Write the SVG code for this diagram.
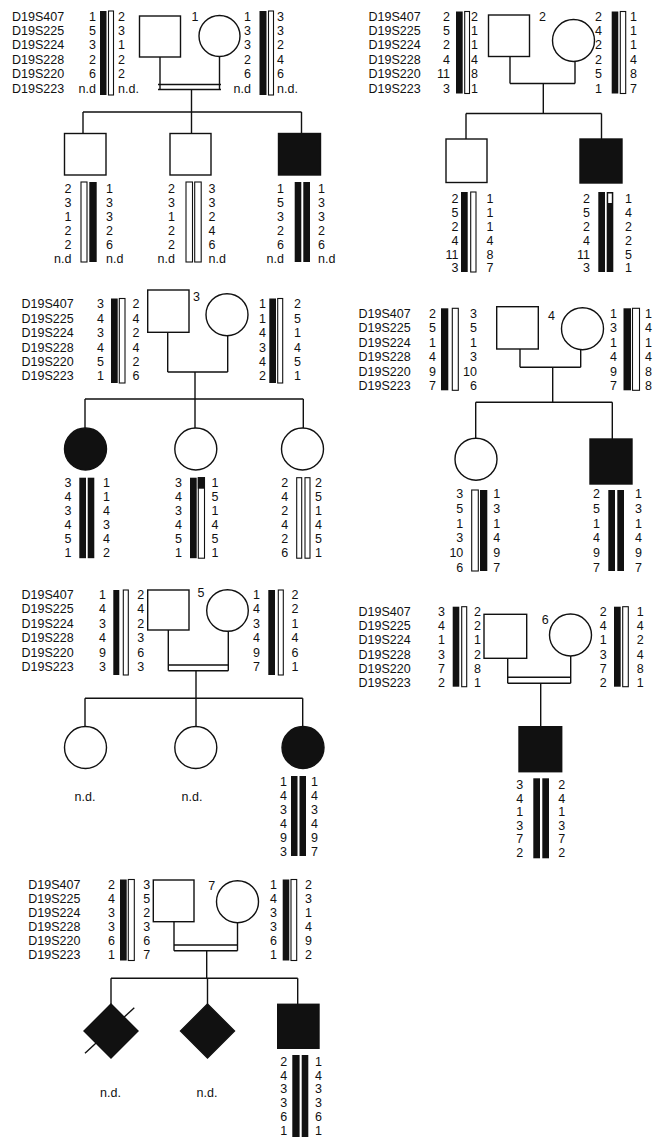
<svg xmlns="http://www.w3.org/2000/svg" width="653" height="1138" viewBox="0 0 653 1138">
<style>
text{font-family:"Liberation Sans",Arial,sans-serif;font-size:12.5px;fill:#111}
.e{text-anchor:end}
.m{text-anchor:middle}
.sym{fill:#fff;stroke:#111;stroke-width:1.4}
.aff{fill:#111;stroke:#111;stroke-width:1.4}
.ln{stroke:#111;stroke-width:1.4;fill:none}
.bk{fill:#111}
.wt{fill:#fff;stroke:#111;stroke-width:1.1}
</style>
<rect width="653" height="1138" fill="#fff"/>

<g id="connectors">
<!-- F1 -->
<path class="ln" d="M160,57V89.5M219.5,56.5V89.5M158,84.5H221M158,89.5H221M191.5,89.5V112M83,112H301.5M83,112V133.5M191.5,112V133.5M301.5,112V133.5"/>
<!-- F2 -->
<path class="ln" d="M510,56.5V83.5M575,61.5V83.5M510,83.5H575M543.3,83.5V113.5M466,113.5H601.5M466,113.5V139M601.5,113.5V139"/>
<!-- F3 -->
<path class="ln" d="M167.7,332.3V372M227.7,335.7V372M167.7,372H227.7M195,372V399M85,399H303.3M85,399V428M195,399V428M303.3,399V428"/>
<!-- F4 -->
<path class="ln" d="M520,349V367.3M580.7,349.7V367.3M520,367.3H580.7M552.7,367.3V402.3M475.7,402.3H612.3M475.7,402.3V438.5M612.3,402.3V439"/>
<!-- F5 -->
<path class="ln" d="M168.3,630V670.7M228.3,631.3V670.7M168.3,665H228.3M168.3,670.7H228.3M196,670.7V698.3M85,698.3H302.7M85,698.3V726.7M196,698.3V726.7M302.7,698.3V726.7"/>
<!-- F6 -->
<path class="ln" d="M507.7,658.3V683.3M570.7,656V683.3M507.7,677.3H570.7M507.7,683.3H570.7M540.7,683.3V726.7"/>
<!-- F7 -->
<path class="ln" d="M174,921.7V950.7M237.5,922.7V950.7M174,945H237.5M174,950.7H237.5M206.7,950.7V978.3M111,978.3H297.7M111,978.3V1004M207.5,978.3V1004M297.7,978.3V1004.3"/>
</g>

<!-- ================= FAMILY 1 ================= -->
<g id="family1">
<text x="12" y="20.5"><tspan x="12">D19S407</tspan><tspan x="12" dy="14.4">D19S225</tspan><tspan x="12" dy="14.4">D19S224</tspan><tspan x="12" dy="14.4">D19S228</tspan><tspan x="12" dy="14.4">D19S220</tspan><tspan x="12" dy="14.4">D19S223</tspan></text>
</g>
<g id="f1-father">
<text class="e" x="96" y="20.5"><tspan x="96">1</tspan><tspan x="96" dy="14.4">5</tspan><tspan x="96" dy="14.4">3</tspan><tspan x="96" dy="14.4">2</tspan><tspan x="96" dy="14.4">6</tspan><tspan x="96" dy="14.4">n.d</tspan></text>
<rect class="bk" x="100" y="11" width="6.5" height="84"/>
<rect class="wt" x="108.5" y="11" width="5" height="84"/>
<text x="118" y="20.5"><tspan x="118">2</tspan><tspan x="118" dy="14.4">3</tspan><tspan x="118" dy="14.4">1</tspan><tspan x="118" dy="14.4">2</tspan><tspan x="118" dy="14.4">2</tspan><tspan x="118" dy="14.4">n.d.</tspan></text>
<rect class="sym" x="139.5" y="16" width="41" height="41"/>
<text x="191.5" y="21">1</text>
</g>
<g id="f1-mother">
<circle class="sym" cx="219.5" cy="36" r="20.5"/>
<text class="e" x="251" y="20.5"><tspan x="251">1</tspan><tspan x="251" dy="14.4">3</tspan><tspan x="251" dy="14.4">3</tspan><tspan x="251" dy="14.4">2</tspan><tspan x="251" dy="14.4">6</tspan><tspan x="251" dy="14.4">n.d</tspan></text>
<rect class="bk" x="259.5" y="11" width="7" height="84"/>
<rect class="wt" x="268.5" y="11" width="5" height="84"/>
<text x="277" y="20.5"><tspan x="277">3</tspan><tspan x="277" dy="14.4">3</tspan><tspan x="277" dy="14.4">2</tspan><tspan x="277" dy="14.4">4</tspan><tspan x="277" dy="14.4">6</tspan><tspan x="277" dy="14.4">n.d.</tspan></text>
</g>
<g id="f1-child1">
<rect class="sym" x="64.5" y="133.5" width="41.5" height="41.5"/>
<text class="e" x="71.5" y="192.6"><tspan x="71.5">2</tspan><tspan x="71.5" dy="14">3</tspan><tspan x="71.5" dy="14">1</tspan><tspan x="71.5" dy="14">2</tspan><tspan x="71.5" dy="14">2</tspan><tspan x="71.5" dy="14">n.d</tspan></text>
<rect class="wt" x="81" y="182" width="6" height="80"/>
<rect class="bk" x="89.3" y="182" width="7.4" height="80"/>
<text x="106" y="192.6"><tspan x="106">1</tspan><tspan x="106" dy="14">3</tspan><tspan x="106" dy="14">3</tspan><tspan x="106" dy="14">2</tspan><tspan x="106" dy="14">6</tspan><tspan x="106" dy="14">n.d</tspan></text>
</g>
<g id="f1-child2">
<rect class="sym" x="170" y="133.5" width="41" height="41.5"/>
<text class="e" x="175" y="192.6"><tspan x="175">2</tspan><tspan x="175" dy="14">3</tspan><tspan x="175" dy="14">1</tspan><tspan x="175" dy="14">2</tspan><tspan x="175" dy="14">2</tspan><tspan x="175" dy="14">n.d</tspan></text>
<rect class="wt" x="186" y="182" width="6.5" height="80"/>
<rect class="wt" x="194.7" y="182" width="6.5" height="80"/>
<text x="208.5" y="192.6"><tspan x="208.5">3</tspan><tspan x="208.5" dy="14">3</tspan><tspan x="208.5" dy="14">2</tspan><tspan x="208.5" dy="14">4</tspan><tspan x="208.5" dy="14">6</tspan><tspan x="208.5" dy="14">n.d</tspan></text>
</g>
<g id="f1-child3">
<rect class="aff" x="278.5" y="133.5" width="42" height="41.5"/>
<text class="e" x="284" y="192.6"><tspan x="284">1</tspan><tspan x="284" dy="14">5</tspan><tspan x="284" dy="14">3</tspan><tspan x="284" dy="14">2</tspan><tspan x="284" dy="14">6</tspan><tspan x="284" dy="14">n.d</tspan></text>
<rect class="bk" x="294.7" y="182" width="6.6" height="80"/>
<rect class="bk" x="303.3" y="182" width="6.7" height="80"/>
<text x="318" y="192.6"><tspan x="318">1</tspan><tspan x="318" dy="14">3</tspan><tspan x="318" dy="14">3</tspan><tspan x="318" dy="14">2</tspan><tspan x="318" dy="14">6</tspan><tspan x="318" dy="14">n.d</tspan></text>
</g>

<!-- ================= FAMILY 2 ================= -->
<g id="family2">
<text x="368.5" y="20.5"><tspan x="368.5">D19S407</tspan><tspan x="368.5" dy="14.4">D19S225</tspan><tspan x="368.5" dy="14.4">D19S224</tspan><tspan x="368.5" dy="14.4">D19S228</tspan><tspan x="368.5" dy="14.4">D19S220</tspan><tspan x="368.5" dy="14.4">D19S223</tspan></text>
</g>
<g id="f2-father">
<text class="e" x="450" y="20.5"><tspan x="450">2</tspan><tspan x="450" dy="14.4">5</tspan><tspan x="450" dy="14.4">2</tspan><tspan x="450" dy="14.4">4</tspan><tspan x="450" dy="14.4">11</tspan><tspan x="450" dy="14.4">3</tspan></text>
<rect class="bk" x="456" y="11.5" width="6.7" height="82"/>
<rect class="wt" x="464.7" y="11.5" width="4.8" height="82"/>
<text x="471" y="20.5"><tspan x="471">2</tspan><tspan x="471" dy="14.4">1</tspan><tspan x="471" dy="14.4">1</tspan><tspan x="471" dy="14.4">4</tspan><tspan x="471" dy="14.4">8</tspan><tspan x="471" dy="14.4">1</tspan></text>
<rect class="sym" x="488.5" y="15" width="41" height="41.5"/>
<text x="539" y="21">2</text>
</g>
<g id="f2-mother">
<circle class="sym" cx="573.5" cy="40.5" r="21"/>
<text class="e" x="602" y="20.5"><tspan x="602">2</tspan><tspan x="602" dy="14.4">4</tspan><tspan x="602" dy="14.4">2</tspan><tspan x="602" dy="14.4">2</tspan><tspan x="602" dy="14.4">5</tspan><tspan x="602" dy="14.4">1</tspan></text>
<rect class="bk" x="611.7" y="11.5" width="6.6" height="82"/>
<rect class="wt" x="620.3" y="11.5" width="5.4" height="82"/>
<text x="630" y="20.5"><tspan x="630">1</tspan><tspan x="630" dy="14.4">1</tspan><tspan x="630" dy="14.4">1</tspan><tspan x="630" dy="14.4">4</tspan><tspan x="630" dy="14.4">8</tspan><tspan x="630" dy="14.4">7</tspan></text>
</g>
<g id="f2-child1">
<rect class="sym" x="446" y="139" width="41" height="43.5"/>
<text class="e" x="458.5" y="203.3"><tspan x="458.5">2</tspan><tspan x="458.5" dy="13.8">5</tspan><tspan x="458.5" dy="13.8">2</tspan><tspan x="458.5" dy="13.8">4</tspan><tspan x="458.5" dy="13.8">11</tspan><tspan x="458.5" dy="13.8">3</tspan></text>
<rect class="bk" x="461" y="192" width="6.7" height="80"/>
<rect class="wt" x="470.7" y="192" width="5.3" height="80"/>
<text x="486.5" y="203.3"><tspan x="486.5">1</tspan><tspan x="486.5" dy="13.8">1</tspan><tspan x="486.5" dy="13.8">1</tspan><tspan x="486.5" dy="13.8">4</tspan><tspan x="486.5" dy="13.8">8</tspan><tspan x="486.5" dy="13.8">7</tspan></text>
</g>
<g id="f2-child2">
<rect class="aff" x="580" y="139" width="42" height="44"/>
<text class="e" x="590" y="203.3"><tspan x="590">2</tspan><tspan x="590" dy="13.8">5</tspan><tspan x="590" dy="13.8">2</tspan><tspan x="590" dy="13.8">4</tspan><tspan x="590" dy="13.8">11</tspan><tspan x="590" dy="13.8">3</tspan></text>
<rect class="bk" x="598.3" y="192" width="6.7" height="80"/>
<rect class="bk" x="606.7" y="192" width="6.6" height="80"/>
<rect x="608.2" y="193.5" width="3.6" height="9.5" fill="#fff"/>
<text x="625" y="203.3"><tspan x="625">1</tspan><tspan x="625" dy="13.8">4</tspan><tspan x="625" dy="13.8">2</tspan><tspan x="625" dy="13.8">2</tspan><tspan x="625" dy="13.8">5</tspan><tspan x="625" dy="13.8">1</tspan></text>
</g>

<!-- ================= FAMILY 3 ================= -->
<g id="family3">
<text x="21.5" y="308.3"><tspan x="21.5">D19S407</tspan><tspan x="21.5" dy="14.4">D19S225</tspan><tspan x="21.5" dy="14.4">D19S224</tspan><tspan x="21.5" dy="14.4">D19S228</tspan><tspan x="21.5" dy="14.4">D19S220</tspan><tspan x="21.5" dy="14.4">D19S223</tspan></text>
</g>
<g id="f3-father">
<text class="e" x="104" y="308.3"><tspan x="104">3</tspan><tspan x="104" dy="14.4">4</tspan><tspan x="104" dy="14.4">3</tspan><tspan x="104" dy="14.4">4</tspan><tspan x="104" dy="14.4">5</tspan><tspan x="104" dy="14.4">1</tspan></text>
<rect class="bk" x="111" y="298.5" width="6.7" height="84.5"/>
<rect class="wt" x="119.3" y="298.5" width="5.7" height="84.5"/>
<text x="132.5" y="308.3"><tspan x="132.5">2</tspan><tspan x="132.5" dy="14.4">4</tspan><tspan x="132.5" dy="14.4">2</tspan><tspan x="132.5" dy="14.4">4</tspan><tspan x="132.5" dy="14.4">2</tspan><tspan x="132.5" dy="14.4">6</tspan></text>
<rect class="sym" x="147.7" y="290" width="41.3" height="42.3"/>
<text x="193" y="301">3</text>
</g>
<g id="f3-mother">
<circle class="sym" cx="227" cy="314.7" r="21"/>
<text class="e" x="266" y="308.3"><tspan x="266">1</tspan><tspan x="266" dy="14.4">1</tspan><tspan x="266" dy="14.4">4</tspan><tspan x="266" dy="14.4">3</tspan><tspan x="266" dy="14.4">4</tspan><tspan x="266" dy="14.4">2</tspan></text>
<rect class="bk" x="269.3" y="298.5" width="6.7" height="84.5"/>
<rect class="wt" x="277.7" y="298.5" width="5" height="84.5"/>
<text x="294" y="308.3"><tspan x="294">2</tspan><tspan x="294" dy="14.4">5</tspan><tspan x="294" dy="14.4">1</tspan><tspan x="294" dy="14.4">4</tspan><tspan x="294" dy="14.4">5</tspan><tspan x="294" dy="14.4">1</tspan></text>
</g>
<g id="f3-child1">
<circle class="aff" cx="85.5" cy="449" r="21"/>
<text class="e" x="71.5" y="486.5"><tspan x="71.5">3</tspan><tspan x="71.5" dy="14">4</tspan><tspan x="71.5" dy="14">3</tspan><tspan x="71.5" dy="14">4</tspan><tspan x="71.5" dy="14">5</tspan><tspan x="71.5" dy="14">1</tspan></text>
<rect class="bk" x="79.3" y="477.7" width="6.7" height="80.5"/>
<rect class="bk" x="87.7" y="477.7" width="6.6" height="80.5"/>
<text x="103" y="486.5"><tspan x="103">1</tspan><tspan x="103" dy="14">1</tspan><tspan x="103" dy="14">4</tspan><tspan x="103" dy="14">3</tspan><tspan x="103" dy="14">4</tspan><tspan x="103" dy="14">2</tspan></text>
</g>
<g id="f3-child2">
<circle class="sym" cx="195.8" cy="449" r="21"/>
<text class="e" x="182" y="486.5"><tspan x="182">3</tspan><tspan x="182" dy="14">4</tspan><tspan x="182" dy="14">3</tspan><tspan x="182" dy="14">4</tspan><tspan x="182" dy="14">5</tspan><tspan x="182" dy="14">1</tspan></text>
<rect class="bk" x="190" y="477.7" width="6.7" height="80.5"/>
<rect class="wt" x="198.3" y="477.7" width="6.2" height="80.5"/>
<rect class="bk" x="197.8" y="477.2" width="7.2" height="11.5"/>
<text x="211.5" y="486.5"><tspan x="211.5">1</tspan><tspan x="211.5" dy="14">5</tspan><tspan x="211.5" dy="14">1</tspan><tspan x="211.5" dy="14">4</tspan><tspan x="211.5" dy="14">5</tspan><tspan x="211.5" dy="14">1</tspan></text>
</g>
<g id="f3-child3">
<circle class="sym" cx="302.5" cy="449" r="21"/>
<text class="e" x="288.3" y="486.5"><tspan x="288.3">2</tspan><tspan x="288.3" dy="14">4</tspan><tspan x="288.3" dy="14">2</tspan><tspan x="288.3" dy="14">4</tspan><tspan x="288.3" dy="14">2</tspan><tspan x="288.3" dy="14">6</tspan></text>
<rect class="wt" x="296.7" y="477.7" width="5" height="80.5"/>
<rect class="wt" x="305" y="477.7" width="5" height="80.5"/>
<text x="315" y="486.5"><tspan x="315">2</tspan><tspan x="315" dy="14">5</tspan><tspan x="315" dy="14">1</tspan><tspan x="315" dy="14">4</tspan><tspan x="315" dy="14">5</tspan><tspan x="315" dy="14">1</tspan></text>
</g>

<!-- ================= FAMILY 4 ================= -->
<g id="family4">
<text x="358.5" y="317.6"><tspan x="358.5">D19S407</tspan><tspan x="358.5" dy="14.5">D19S225</tspan><tspan x="358.5" dy="14.5">D19S224</tspan><tspan x="358.5" dy="14.5">D19S228</tspan><tspan x="358.5" dy="14.5">D19S220</tspan><tspan x="358.5" dy="14.5">D19S223</tspan></text>
</g>
<g id="f4-father">
<text class="e" x="436" y="317.6"><tspan x="436">2</tspan><tspan x="436" dy="14.5">5</tspan><tspan x="436" dy="14.5">1</tspan><tspan x="436" dy="14.5">4</tspan><tspan x="436" dy="14.5">9</tspan><tspan x="436" dy="14.5">7</tspan></text>
<rect class="bk" x="441" y="308.3" width="7.3" height="82"/>
<rect class="wt" x="452.3" y="308.3" width="6" height="82"/>
<text class="e" x="477" y="317.6"><tspan x="477">3</tspan><tspan x="477" dy="14.5">5</tspan><tspan x="477" dy="14.5">1</tspan><tspan x="477" dy="14.5">3</tspan><tspan x="477" dy="14.5">10</tspan><tspan x="477" dy="14.5">6</tspan></text>
<rect class="sym" x="496.7" y="306.7" width="41.6" height="42.3"/>
<text x="548" y="320">4</text>
</g>
<g id="f4-mother">
<circle class="sym" cx="582.5" cy="328.7" r="21"/>
<text class="e" x="617" y="317.6"><tspan x="617">1</tspan><tspan x="617" dy="14.5">3</tspan><tspan x="617" dy="14.5">1</tspan><tspan x="617" dy="14.5">4</tspan><tspan x="617" dy="14.5">9</tspan><tspan x="617" dy="14.5">7</tspan></text>
<rect class="bk" x="623.5" y="308.3" width="7.5" height="82"/>
<rect class="wt" x="632.5" y="308.3" width="7" height="82"/>
<text x="645" y="317.6"><tspan x="645">1</tspan><tspan x="645" dy="14.5">4</tspan><tspan x="645" dy="14.5">1</tspan><tspan x="645" dy="14.5">4</tspan><tspan x="645" dy="14.5">8</tspan><tspan x="645" dy="14.5">8</tspan></text>
</g>
<g id="f4-child1">
<circle class="sym" cx="476" cy="459.2" r="21"/>
<text class="e" x="463.3" y="498.3"><tspan x="463.3">3</tspan><tspan x="463.3" dy="14.7">5</tspan><tspan x="463.3" dy="14.7">1</tspan><tspan x="463.3" dy="14.7">3</tspan><tspan x="463.3" dy="14.7">10</tspan><tspan x="463.3" dy="14.7">6</tspan></text>
<rect class="wt" x="471.7" y="490" width="6.6" height="81"/>
<rect class="bk" x="480" y="490" width="7.3" height="81"/>
<text x="493.3" y="498.3"><tspan x="493.3">1</tspan><tspan x="493.3" dy="14.7">3</tspan><tspan x="493.3" dy="14.7">1</tspan><tspan x="493.3" dy="14.7">4</tspan><tspan x="493.3" dy="14.7">9</tspan><tspan x="493.3" dy="14.7">7</tspan></text>
</g>
<g id="f4-child2">
<rect class="aff" x="590" y="439" width="42" height="45"/>
<text class="e" x="600" y="498.3"><tspan x="600">2</tspan><tspan x="600" dy="14.7">5</tspan><tspan x="600" dy="14.7">1</tspan><tspan x="600" dy="14.7">4</tspan><tspan x="600" dy="14.7">9</tspan><tspan x="600" dy="14.7">7</tspan></text>
<rect class="bk" x="608.3" y="490" width="6.7" height="81"/>
<rect class="bk" x="617.3" y="490" width="6.7" height="81"/>
<text x="635" y="498.3"><tspan x="635">1</tspan><tspan x="635" dy="14.7">3</tspan><tspan x="635" dy="14.7">1</tspan><tspan x="635" dy="14.7">4</tspan><tspan x="635" dy="14.7">9</tspan><tspan x="635" dy="14.7">7</tspan></text>
</g>

<!-- ================= FAMILY 5 ================= -->
<g id="family5">
<text x="21.5" y="598.5"><tspan x="21.5">D19S407</tspan><tspan x="21.5" dy="14.5">D19S225</tspan><tspan x="21.5" dy="14.5">D19S224</tspan><tspan x="21.5" dy="14.5">D19S228</tspan><tspan x="21.5" dy="14.5">D19S220</tspan><tspan x="21.5" dy="14.5">D19S223</tspan></text>
</g>
<g id="f5-father">
<text class="e" x="106" y="598.5"><tspan x="106">1</tspan><tspan x="106" dy="14.5">4</tspan><tspan x="106" dy="14.5">3</tspan><tspan x="106" dy="14.5">4</tspan><tspan x="106" dy="14.5">9</tspan><tspan x="106" dy="14.5">3</tspan></text>
<rect class="bk" x="113.3" y="590" width="6" height="85"/>
<rect class="wt" x="123.3" y="590" width="5" height="85"/>
<text x="137.3" y="598.5"><tspan x="137.3">2</tspan><tspan x="137.3" dy="14.5">4</tspan><tspan x="137.3" dy="14.5">2</tspan><tspan x="137.3" dy="14.5">3</tspan><tspan x="137.3" dy="14.5">6</tspan><tspan x="137.3" dy="14.5">3</tspan></text>
<rect class="sym" x="147.7" y="590" width="41.3" height="40"/>
<text x="197.5" y="597">5</text>
</g>
<g id="f5-mother">
<circle class="sym" cx="227.5" cy="610.5" r="20.8"/>
<text class="e" x="260" y="598.5"><tspan x="260">1</tspan><tspan x="260" dy="14.5">4</tspan><tspan x="260" dy="14.5">3</tspan><tspan x="260" dy="14.5">4</tspan><tspan x="260" dy="14.5">9</tspan><tspan x="260" dy="14.5">7</tspan></text>
<rect class="bk" x="268.3" y="590" width="6.7" height="85"/>
<rect class="wt" x="278.3" y="590" width="5" height="85"/>
<text x="291.5" y="598.5"><tspan x="291.5">2</tspan><tspan x="291.5" dy="14.5">2</tspan><tspan x="291.5" dy="14.5">1</tspan><tspan x="291.5" dy="14.5">4</tspan><tspan x="291.5" dy="14.5">6</tspan><tspan x="291.5" dy="14.5">1</tspan></text>
</g>
<g id="f5-child1">
<circle class="sym" cx="85.5" cy="747.5" r="21"/>
<text class="m" x="85" y="801">n.d.</text>
</g>
<g id="f5-child2">
<circle class="sym" cx="195.8" cy="747.5" r="21"/>
<text class="m" x="192" y="801">n.d.</text>
</g>
<g id="f5-child3">
<circle class="aff" cx="303" cy="747.5" r="21"/>
<text class="e" x="287" y="786"><tspan x="287">1</tspan><tspan x="287" dy="14">4</tspan><tspan x="287" dy="14">3</tspan><tspan x="287" dy="14">4</tspan><tspan x="287" dy="14">9</tspan><tspan x="287" dy="14">3</tspan></text>
<rect class="bk" x="291" y="776" width="6.5" height="80"/>
<rect class="bk" x="299.5" y="776" width="6.5" height="80"/>
<text x="311" y="786"><tspan x="311">1</tspan><tspan x="311" dy="14">4</tspan><tspan x="311" dy="14">3</tspan><tspan x="311" dy="14">4</tspan><tspan x="311" dy="14">9</tspan><tspan x="311" dy="14">7</tspan></text>
</g>

<!-- ================= FAMILY 6 ================= -->
<g id="family6">
<text x="358.5" y="616"><tspan x="358.5">D19S407</tspan><tspan x="358.5" dy="14.2">D19S225</tspan><tspan x="358.5" dy="14.2">D19S224</tspan><tspan x="358.5" dy="14.2">D19S228</tspan><tspan x="358.5" dy="14.2">D19S220</tspan><tspan x="358.5" dy="14.2">D19S223</tspan></text>
</g>
<g id="f6-father">
<text class="e" x="445" y="616"><tspan x="445">3</tspan><tspan x="445" dy="14.2">4</tspan><tspan x="445" dy="14.2">1</tspan><tspan x="445" dy="14.2">3</tspan><tspan x="445" dy="14.2">7</tspan><tspan x="445" dy="14.2">2</tspan></text>
<rect class="bk" x="452.7" y="606.7" width="6.6" height="80"/>
<rect class="wt" x="461.7" y="606.7" width="5" height="80"/>
<text x="474" y="616"><tspan x="474">2</tspan><tspan x="474" dy="14.2">2</tspan><tspan x="474" dy="14.2">1</tspan><tspan x="474" dy="14.2">2</tspan><tspan x="474" dy="14.2">8</tspan><tspan x="474" dy="14.2">1</tspan></text>
<rect class="sym" x="484" y="614.3" width="42.7" height="44"/>
<text x="541.7" y="623.5">6</text>
</g>
<g id="f6-mother">
<circle class="sym" cx="570.5" cy="635" r="21"/>
<text class="e" x="606.7" y="616"><tspan x="606.7">2</tspan><tspan x="606.7" dy="14.2">4</tspan><tspan x="606.7" dy="14.2">1</tspan><tspan x="606.7" dy="14.2">3</tspan><tspan x="606.7" dy="14.2">7</tspan><tspan x="606.7" dy="14.2">2</tspan></text>
<rect class="bk" x="614" y="606.7" width="6.7" height="80"/>
<rect class="wt" x="622.7" y="606.7" width="5.6" height="80"/>
<text x="636.7" y="616"><tspan x="636.7">1</tspan><tspan x="636.7" dy="14.2">4</tspan><tspan x="636.7" dy="14.2">2</tspan><tspan x="636.7" dy="14.2">4</tspan><tspan x="636.7" dy="14.2">8</tspan><tspan x="636.7" dy="14.2">1</tspan></text>
</g>
<g id="f6-child">
<rect class="aff" x="519" y="726.7" width="42.7" height="45"/>
<text class="e" x="523.3" y="789.3"><tspan x="523.3">3</tspan><tspan x="523.3" dy="13.5">4</tspan><tspan x="523.3" dy="13.5">1</tspan><tspan x="523.3" dy="13.5">3</tspan><tspan x="523.3" dy="13.5">7</tspan><tspan x="523.3" dy="13.5">2</tspan></text>
<rect class="bk" x="533.3" y="778.3" width="6.7" height="80"/>
<rect class="bk" x="542.3" y="778.3" width="6.7" height="80"/>
<text x="558.3" y="789.3"><tspan x="558.3">2</tspan><tspan x="558.3" dy="13.5">4</tspan><tspan x="558.3" dy="13.5">1</tspan><tspan x="558.3" dy="13.5">3</tspan><tspan x="558.3" dy="13.5">7</tspan><tspan x="558.3" dy="13.5">2</tspan></text>
</g>

<!-- ================= FAMILY 7 ================= -->
<g id="family7">
<text x="28.3" y="889.3"><tspan x="28.3">D19S407</tspan><tspan x="28.3" dy="13.9">D19S225</tspan><tspan x="28.3" dy="13.9">D19S224</tspan><tspan x="28.3" dy="13.9">D19S228</tspan><tspan x="28.3" dy="13.9">D19S220</tspan><tspan x="28.3" dy="13.9">D19S223</tspan></text>
</g>
<g id="f7-father">
<text class="e" x="115" y="889.3"><tspan x="115">2</tspan><tspan x="115" dy="13.9">4</tspan><tspan x="115" dy="13.9">3</tspan><tspan x="115" dy="13.9">3</tspan><tspan x="115" dy="13.9">6</tspan><tspan x="115" dy="13.9">1</tspan></text>
<rect class="bk" x="120" y="879.5" width="6.7" height="81"/>
<rect class="wt" x="128.3" y="879.5" width="6" height="81"/>
<text x="143.3" y="889.3"><tspan x="143.3">3</tspan><tspan x="143.3" dy="13.9">5</tspan><tspan x="143.3" dy="13.9">2</tspan><tspan x="143.3" dy="13.9">3</tspan><tspan x="143.3" dy="13.9">6</tspan><tspan x="143.3" dy="13.9">7</tspan></text>
<rect class="sym" x="153.3" y="880" width="40.7" height="41.7"/>
<text x="208.3" y="889.5">7</text>
</g>
<g id="f7-mother">
<circle class="sym" cx="237.5" cy="901.7" r="21"/>
<text class="e" x="277" y="889.3"><tspan x="277">1</tspan><tspan x="277" dy="13.9">4</tspan><tspan x="277" dy="13.9">3</tspan><tspan x="277" dy="13.9">3</tspan><tspan x="277" dy="13.9">6</tspan><tspan x="277" dy="13.9">1</tspan></text>
<rect class="bk" x="282.7" y="879.5" width="6.6" height="81"/>
<rect class="wt" x="291" y="879.5" width="5.7" height="81"/>
<text x="305" y="889.3"><tspan x="305">2</tspan><tspan x="305" dy="13.9">3</tspan><tspan x="305" dy="13.9">1</tspan><tspan x="305" dy="13.9">4</tspan><tspan x="305" dy="13.9">9</tspan><tspan x="305" dy="13.9">2</tspan></text>
</g>
<g id="f7-child1">
<polygon class="aff" points="111,1004 138,1031 111,1058 84,1031"/>
<line class="ln" x1="85" y1="1053.3" x2="134.3" y2="1007.7"/>
<text class="m" x="110.5" y="1097">n.d.</text>
</g>
<g id="f7-child2">
<polygon class="aff" points="207.5,1004 234.5,1031 207.5,1058 180.5,1031"/>
<text class="m" x="207" y="1097">n.d.</text>
</g>
<g id="f7-child3">
<rect class="aff" x="277.7" y="1004.3" width="41.3" height="44"/>
<text class="e" x="287.3" y="1066"><tspan x="287.3">2</tspan><tspan x="287.3" dy="13.7">4</tspan><tspan x="287.3" dy="13.7">3</tspan><tspan x="287.3" dy="13.7">3</tspan><tspan x="287.3" dy="13.7">6</tspan><tspan x="287.3" dy="13.7">1</tspan></text>
<rect class="bk" x="292.3" y="1055" width="7.3" height="82"/>
<rect class="bk" x="301.7" y="1055" width="6.6" height="82"/>
<text x="315" y="1066"><tspan x="315">1</tspan><tspan x="315" dy="13.7">4</tspan><tspan x="315" dy="13.7">3</tspan><tspan x="315" dy="13.7">3</tspan><tspan x="315" dy="13.7">6</tspan><tspan x="315" dy="13.7">1</tspan></text>
</g>
</svg>
